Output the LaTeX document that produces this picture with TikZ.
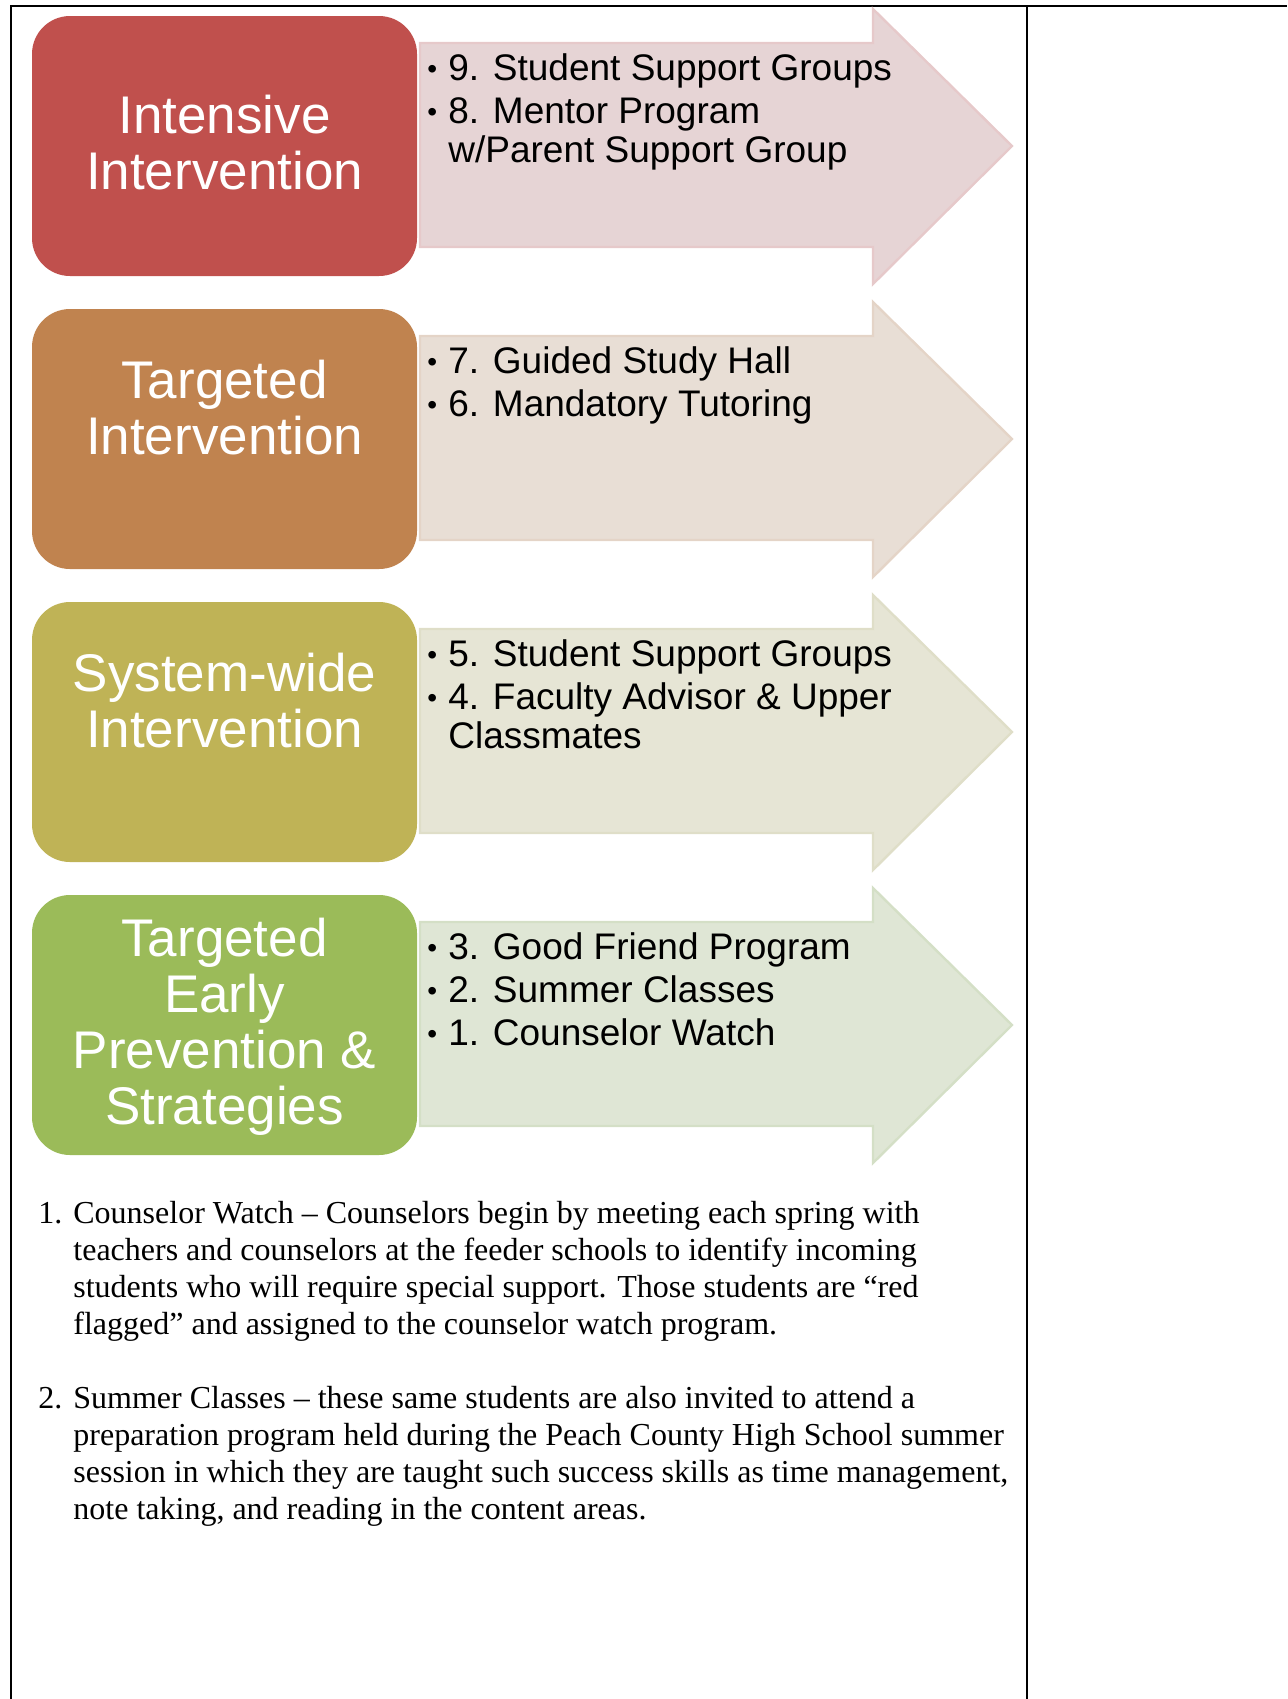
\documentclass[tikz,border=0pt]{standalone}
\usepackage{fontspec}
\setmainfont{Liberation Serif}
\setsansfont{Liberation Sans}

\definecolor{tierred}{HTML}{C0504D}
\definecolor{tierorange}{HTML}{C0834F}
\definecolor{tierolive}{HTML}{BFB356}
\definecolor{tiergreen}{HTML}{9BBB59}
\definecolor{redarrow}{HTML}{E6D4D5}
\definecolor{redarrowline}{HTML}{E6C9CA}
\definecolor{orangearrow}{HTML}{E8DED5}
\definecolor{orangearrowline}{HTML}{E4D4C7}
\definecolor{olivearrow}{HTML}{E6E5D5}
\definecolor{olivearrowline}{HTML}{DFDEC8}
\definecolor{greenarrow}{HTML}{DFE6D5}
\definecolor{greenarrowline}{HTML}{D4DFC6}

\newcommand\tierlabel[1]{\parbox[t]{190pt}{\centering #1}}
\newcommand\tieritem[1]{\parbox[t]{240pt}{\hangindent=10.5pt\hangafter=1%
  \makebox[10.5pt][l]{\raisebox{1pt}{\fontsize{14}{14}\selectfont\textbullet}}#1}}

\tikzset{
  tierbox/.style={rounded corners=19pt},
  tierarrow/.style={line width=1.2pt, line join=miter},
  boxlabel/.style={anchor=base, inner sep=0, text=white,
    font=\sffamily\fontsize{26.5}{28}\selectfont},
  itemlabel/.style={anchor=base west, inner sep=0,
    font=\sffamily\fontsize{18.5}{19.5}\selectfont},
  bodytext/.style={anchor=base west, inner sep=0,
    font=\fontsize{16}{18.5}\selectfont},
  rule/.style={line width=1pt}
}

\begin{document}
\begin{tikzpicture}[x=0.5pt,y=-0.5pt]
\useasboundingbox (0,0) rectangle (1287,1699);

% table rules
\draw[rule] (11,1699) -- (11,6) -- (1287,6);
\draw[rule] (1027,6) -- (1027,1699);

% intensive
\filldraw[tierarrow, fill=redarrow, draw=redarrowline]
  (420,43) -- (873,43) -- (873,9) -- (1012,146) -- (873,284) -- (873,247) -- (420,247) -- cycle;
\fill[tierbox, tierred] (32,16) rectangle (417,276);
\node[boxlabel] (intensive) at (224.5,133) {\tierlabel{Intensive\\Intervention}};
\node[itemlabel] (item9) at (427,80) {\tieritem{9. Student Support Groups}};
\node[itemlabel] (item8) at (427,123) {\tieritem{8. Mentor Program\\w/Parent Support Group}};

% targeted
\filldraw[tierarrow, fill=orangearrow, draw=orangearrowline]
  (420,336) -- (873,336) -- (873,302) -- (1012,439) -- (873,577) -- (873,540) -- (420,540) -- cycle;
\fill[tierbox, tierorange] (32,309) rectangle (417,569);
\node[boxlabel] (targeted) at (224.5,398) {\tierlabel{Targeted\\Intervention}};
\node[itemlabel] (item7) at (427,373) {\tieritem{7. Guided Study Hall}};
\node[itemlabel] (item6) at (427,416) {\tieritem{6. Mandatory Tutoring}};

% system-wide
\filldraw[tierarrow, fill=olivearrow, draw=olivearrowline]
  (420,629) -- (873,629) -- (873,595) -- (1012,732) -- (873,870) -- (873,833) -- (420,833) -- cycle;
\fill[tierbox, tierolive] (32,602) rectangle (417,862);
\node[boxlabel] (systemwide) at (224.5,691) {\tierlabel{System-wide\\Intervention}};
\node[itemlabel] (item5) at (427,666) {\tieritem{5. Student Support Groups}};
\node[itemlabel] (item4) at (427,709) {\tieritem{4. Faculty Advisor \& Upper\\Classmates}};

% early prevention
\filldraw[tierarrow, fill=greenarrow, draw=greenarrowline]
  (420,922) -- (873,922) -- (873,888) -- (1012,1025) -- (873,1163) -- (873,1126) -- (420,1126) -- cycle;
\fill[tierbox, tiergreen] (32,895) rectangle (417,1155);
\node[boxlabel] (early) at (224.5,956) {\tierlabel{Targeted\\Early\\Prevention \&\\Strategies}};
\node[itemlabel] (item3) at (427,959) {\tieritem{3. Good Friend Program}};
\node[itemlabel] (item2) at (427,1002) {\tieritem{2. Summer Classes}};
\node[itemlabel] (item1) at (427,1045) {\tieritem{1. Counselor Watch}};

% notes
\node[bodytext] (num1) at (38,1223) {1.};
\node[bodytext] (note1) at (73,1223) {\parbox[t]{480pt}{Counselor Watch – Counselors begin by meeting each spring with\\
teachers and counselors at the feeder schools to identify incoming\\
students who will require special support. Those students are “red\\
flagged” and assigned to the counselor watch program.}};
\node[bodytext] (num2) at (38,1408) {2.};
\node[bodytext] (note2) at (73,1408) {\parbox[t]{480pt}{Summer Classes – these same students are also invited to attend a\\
preparation program held during the Peach County High School summer\\
session in which they are taught such success skills as time management,\\
note taking, and reading in the content areas.}};
\end{tikzpicture}
\end{document}
